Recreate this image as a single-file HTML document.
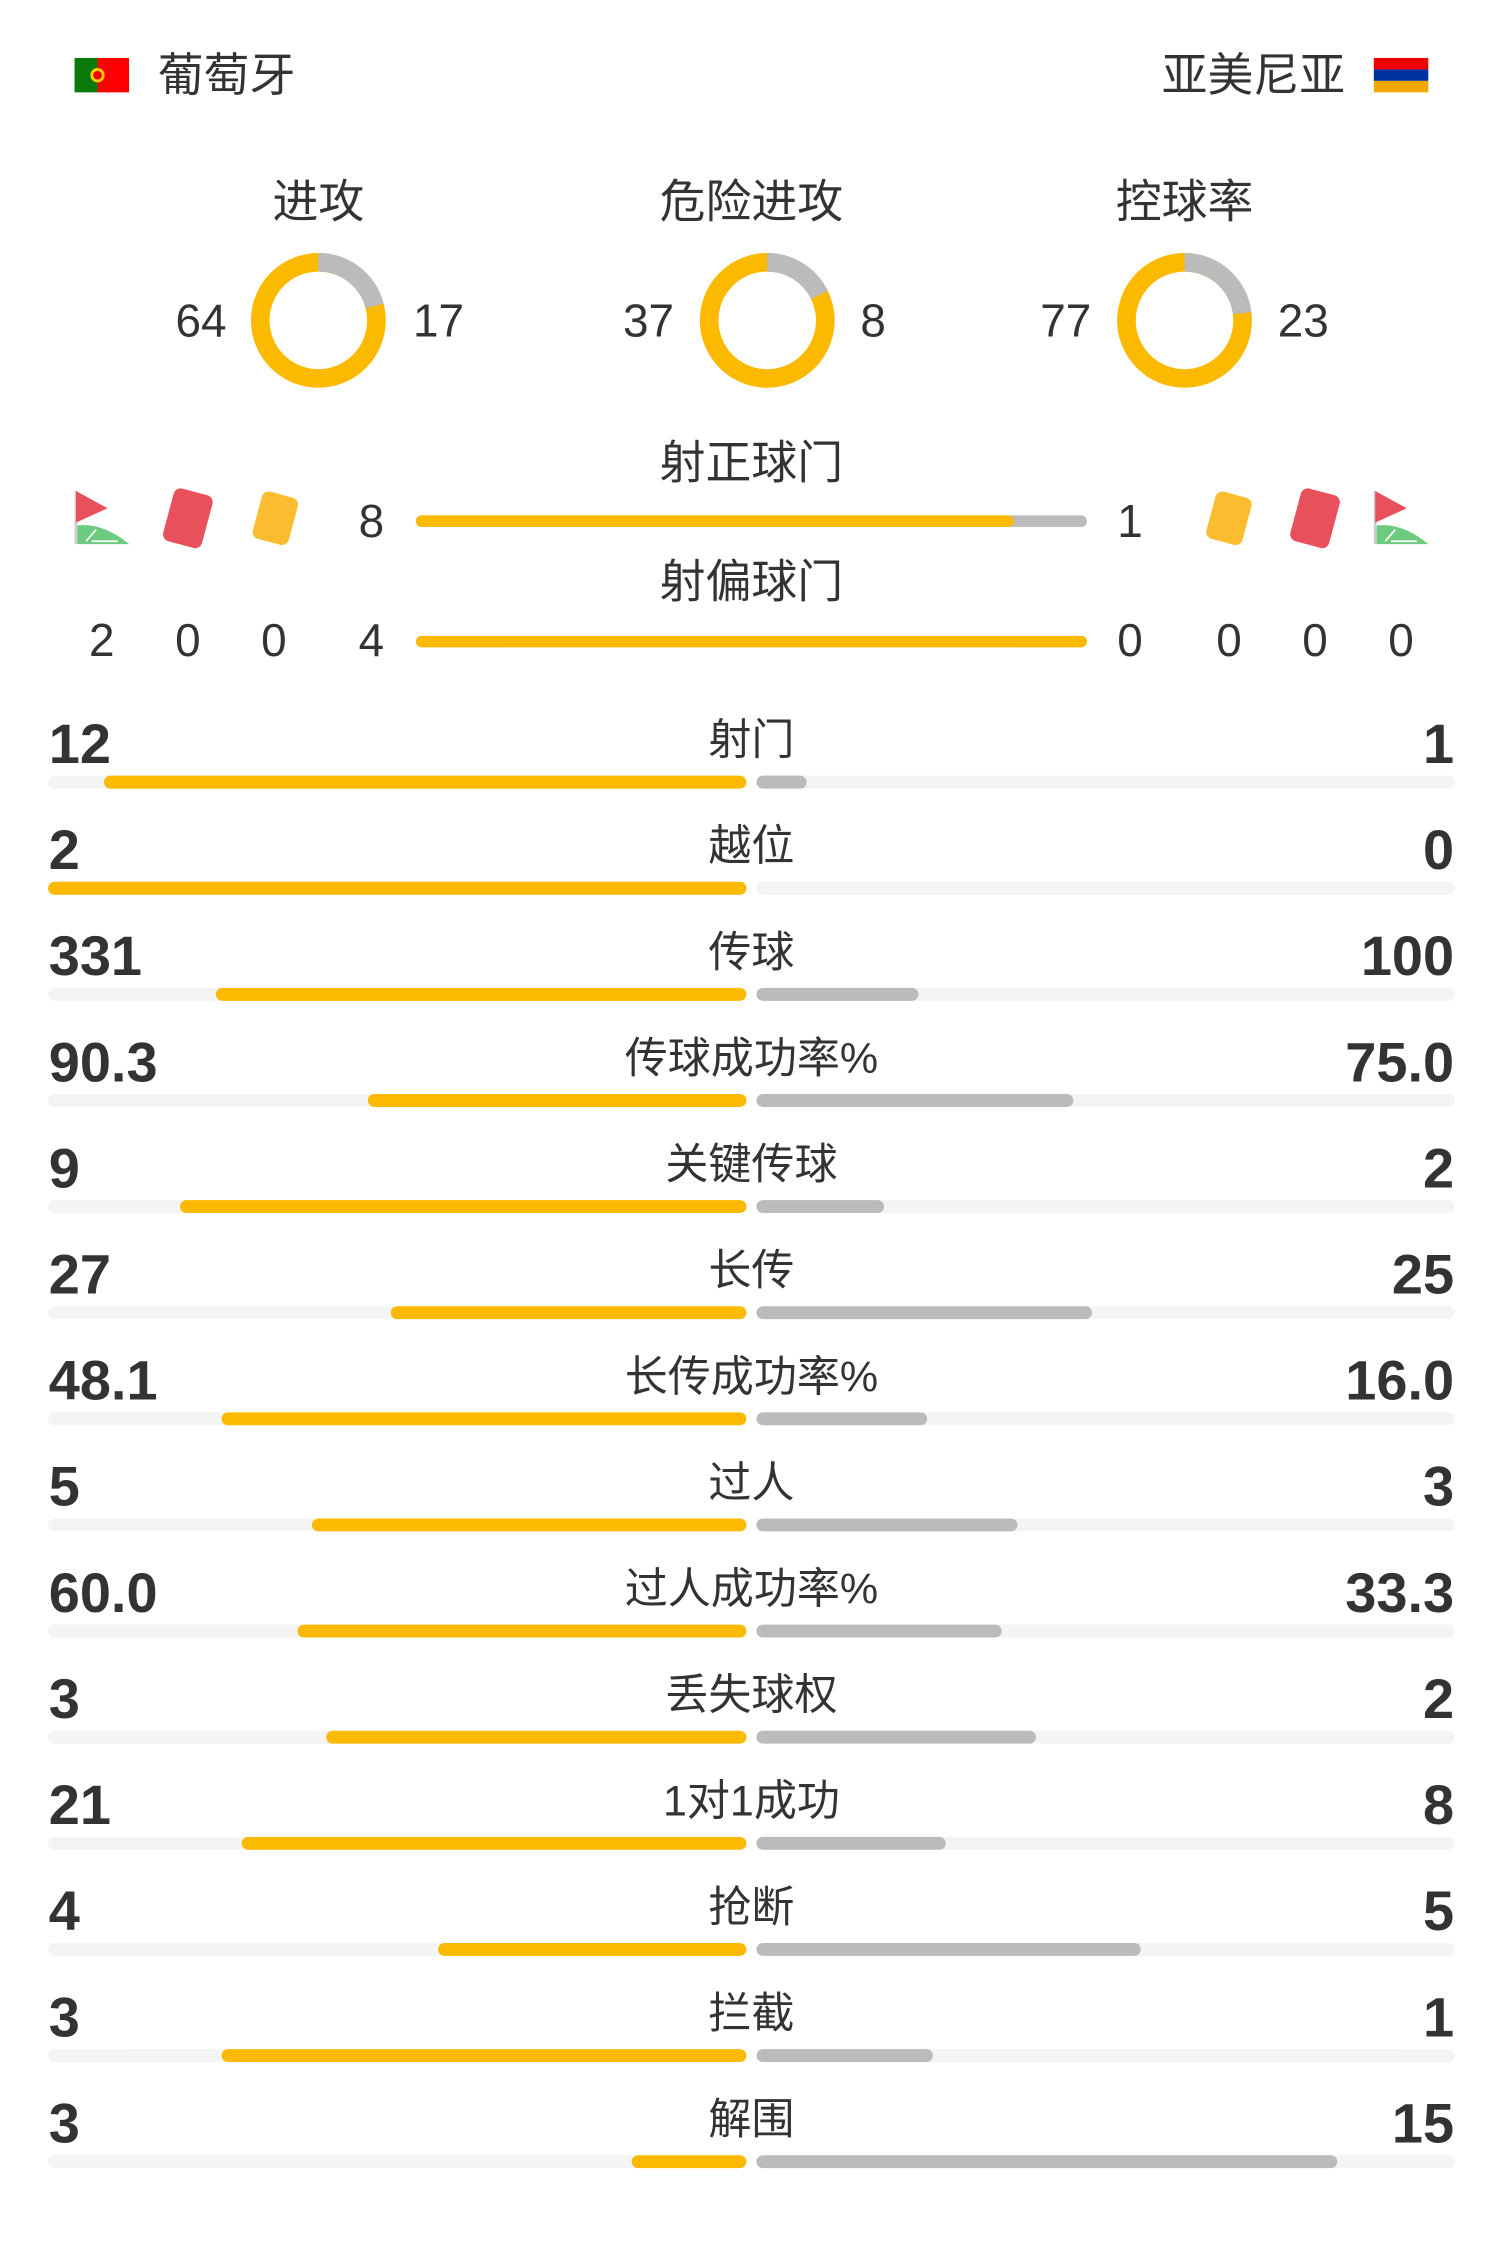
<!DOCTYPE html>
<html><head><meta charset="utf-8"><style>
html,body{margin:0;padding:0;background:#fff;}
svg{display:block;}
text{font-family:"Liberation Sans","Noto Sans CJK SC",sans-serif;fill:#333;}
.t{font-size:32px;dominant-baseline:central;}
.v{font-size:39px;font-weight:bold;dominant-baseline:central;}
.l{font-size:30px;dominant-baseline:central;text-anchor:middle;}
</style></head><body>
<svg width="1500" height="2244" viewBox="0 0 1046 1564" xmlns="http://www.w3.org/2000/svg">
<rect width="1046" height="1564" fill="#fff"/>
<rect x="52" y="40" width="16" height="24" fill="#0a7a0a"/><rect x="68" y="40" width="22" height="24" fill="#f00"/>
<circle cx="68" cy="52" r="5" fill="#fc0"/><circle cx="68" cy="52" r="3" fill="#e00"/>
<text class="t" x="110" y="52">葡萄牙</text>
<text class="t" x="938" y="52" text-anchor="end">亚美尼亚</text>
<rect x="958" y="40" width="38" height="8" fill="#e00"/><rect x="958" y="48" width="38" height="8" fill="#0033a0"/><rect x="958" y="56" width="38" height="8" fill="#f2a800"/>
<text class="t" x="222" y="140" text-anchor="middle">进攻</text>
<text class="t" x="524" y="140" text-anchor="middle">危险进攻</text>
<text class="t" x="826" y="140" text-anchor="middle">控球率</text>
<text class="t" x="158" y="223" text-anchor="end">64</text><text class="t" x="288" y="223">17</text>
<text class="t" x="470" y="223" text-anchor="end">37</text><text class="t" x="600" y="223">8</text>
<text class="t" x="761" y="223" text-anchor="end">77</text><text class="t" x="891" y="223">23</text>
<g fill="none" stroke-width="13">
<circle cx="222" cy="223" r="40.5" stroke="#FBBA00"/>
<circle cx="222" cy="223" r="40.5" stroke="#BBB" stroke-dasharray="53.4 300" transform="rotate(-90 222 223)"/>
<circle cx="535" cy="223" r="40.5" stroke="#FBBA00"/>
<circle cx="535" cy="223" r="40.5" stroke="#BBB" stroke-dasharray="45.2 300" transform="rotate(-90 535 223)"/>
<circle cx="826" cy="223" r="40.5" stroke="#FBBA00"/>
<circle cx="826" cy="223" r="40.5" stroke="#BBB" stroke-dasharray="58.5 300" transform="rotate(-90 826 223)"/>
</g>
<text class="t" x="524" y="322" text-anchor="middle">射正球门</text>
<line x1="294" y1="363" x2="754" y2="363" stroke="#BBB" stroke-width="8" stroke-linecap="round"/>
<line x1="294" y1="363" x2="703" y2="363" stroke="#FBBA00" stroke-width="8" stroke-linecap="round"/>
<text class="t" x="259" y="363" text-anchor="middle">8</text><text class="t" x="788" y="363" text-anchor="middle">1</text>
<text class="t" x="524" y="405" text-anchor="middle">射偏球门</text>
<line x1="294" y1="447" x2="754" y2="447" stroke="#FBBA00" stroke-width="8" stroke-linecap="round"/>
<g text-anchor="middle">
<text class="t" x="71" y="446">2</text><text class="t" x="131" y="446">0</text><text class="t" x="191" y="446">0</text><text class="t" x="259" y="446">4</text>
<text class="t" x="788" y="446">0</text><text class="t" x="857" y="446">0</text><text class="t" x="917" y="446">0</text><text class="t" x="977" y="446">0</text>
</g>
<defs>
<g id="corner"><line x1="1" y1="0" x2="1" y2="37" stroke="#ccc" stroke-width="2"/><polygon points="1,0 23,12 1,22" fill="#E8505B"/><path d="M2,37 L2,24 Q20,22 38,37 Z" fill="#6CCB7E"/><path d="M8,35 L15,27 M12,35 L30,35" stroke="#fff" stroke-width="1.2" fill="none"/></g>
<g id="red"><rect x="-14" y="-19" width="28" height="38" rx="5" fill="#E8505B"/></g>
<g id="yel"><rect x="-13" y="-17" width="26" height="34" rx="5" fill="#FBBD2F"/></g>
</defs>
<use href="#corner" x="52" y="342"/>
<use href="#red" transform="translate(131,361) rotate(15)"/>
<use href="#yel" transform="translate(192,361) rotate(15)"/>
<use href="#yel" transform="translate(857,361) rotate(15)"/>
<use href="#red" transform="translate(917,361) rotate(15)"/>
<use href="#corner" x="958" y="342"/>
<g stroke-width="9" stroke-linecap="round">
<g stroke="#F4F4F4">
<line x1="38" y1="545" x2="516" y2="545"/><line x1="532" y1="545" x2="1010" y2="545"/>
<line x1="38" y1="619" x2="516" y2="619"/><line x1="532" y1="619" x2="1010" y2="619"/>
<line x1="38" y1="693" x2="516" y2="693"/><line x1="532" y1="693" x2="1010" y2="693"/>
<line x1="38" y1="767" x2="516" y2="767"/><line x1="532" y1="767" x2="1010" y2="767"/>
<line x1="38" y1="841" x2="516" y2="841"/><line x1="532" y1="841" x2="1010" y2="841"/>
<line x1="38" y1="915" x2="516" y2="915"/><line x1="532" y1="915" x2="1010" y2="915"/>
<line x1="38" y1="989" x2="516" y2="989"/><line x1="532" y1="989" x2="1010" y2="989"/>
<line x1="38" y1="1063" x2="516" y2="1063"/><line x1="532" y1="1063" x2="1010" y2="1063"/>
<line x1="38" y1="1137" x2="516" y2="1137"/><line x1="532" y1="1137" x2="1010" y2="1137"/>
<line x1="38" y1="1211" x2="516" y2="1211"/><line x1="532" y1="1211" x2="1010" y2="1211"/>
<line x1="38" y1="1285" x2="516" y2="1285"/><line x1="532" y1="1285" x2="1010" y2="1285"/>
<line x1="38" y1="1359" x2="516" y2="1359"/><line x1="532" y1="1359" x2="1010" y2="1359"/>
<line x1="38" y1="1433" x2="516" y2="1433"/><line x1="532" y1="1433" x2="1010" y2="1433"/>
<line x1="38" y1="1507" x2="516" y2="1507"/><line x1="532" y1="1507" x2="1010" y2="1507"/>
</g>
<g stroke="#FBBA00">
<line x1="77" y1="545" x2="516" y2="545"/>
<line x1="38" y1="619" x2="516" y2="619"/>
<line x1="155" y1="693" x2="516" y2="693"/>
<line x1="261" y1="767" x2="516" y2="767"/>
<line x1="130" y1="841" x2="516" y2="841"/>
<line x1="277" y1="915" x2="516" y2="915"/>
<line x1="159" y1="989" x2="516" y2="989"/>
<line x1="222" y1="1063" x2="516" y2="1063"/>
<line x1="212" y1="1137" x2="516" y2="1137"/>
<line x1="232" y1="1211" x2="516" y2="1211"/>
<line x1="173" y1="1285" x2="516" y2="1285"/>
<line x1="310" y1="1359" x2="516" y2="1359"/>
<line x1="159" y1="1433" x2="516" y2="1433"/>
<line x1="445" y1="1507" x2="516" y2="1507"/>
</g>
<g stroke="#BBB">
<line x1="532" y1="545" x2="558" y2="545"/>
<line x1="532" y1="693" x2="636" y2="693"/>
<line x1="532" y1="767" x2="744" y2="767"/>
<line x1="532" y1="841" x2="612" y2="841"/>
<line x1="532" y1="915" x2="757" y2="915"/>
<line x1="532" y1="989" x2="642" y2="989"/>
<line x1="532" y1="1063" x2="705" y2="1063"/>
<line x1="532" y1="1137" x2="694" y2="1137"/>
<line x1="532" y1="1211" x2="718" y2="1211"/>
<line x1="532" y1="1285" x2="655" y2="1285"/>
<line x1="532" y1="1359" x2="791" y2="1359"/>
<line x1="532" y1="1433" x2="646" y2="1433"/>
<line x1="532" y1="1507" x2="928" y2="1507"/>
</g>
</g>
<g>
<text class="v" x="34" y="518">12</text><text class="l" x="524" y="516">射门</text><text class="v" x="1014" y="518" text-anchor="end">1</text>
<text class="v" x="34" y="592">2</text><text class="l" x="524" y="590">越位</text><text class="v" x="1014" y="592" text-anchor="end">0</text>
<text class="v" x="34" y="666">331</text><text class="l" x="524" y="664">传球</text><text class="v" x="1014" y="666" text-anchor="end">100</text>
<text class="v" x="34" y="740">90.3</text><text class="l" x="524" y="738">传球成功率%</text><text class="v" x="1014" y="740" text-anchor="end">75.0</text>
<text class="v" x="34" y="814">9</text><text class="l" x="524" y="812">关键传球</text><text class="v" x="1014" y="814" text-anchor="end">2</text>
<text class="v" x="34" y="888">27</text><text class="l" x="524" y="886">长传</text><text class="v" x="1014" y="888" text-anchor="end">25</text>
<text class="v" x="34" y="962">48.1</text><text class="l" x="524" y="960">长传成功率%</text><text class="v" x="1014" y="962" text-anchor="end">16.0</text>
<text class="v" x="34" y="1036">5</text><text class="l" x="524" y="1034">过人</text><text class="v" x="1014" y="1036" text-anchor="end">3</text>
<text class="v" x="34" y="1110">60.0</text><text class="l" x="524" y="1108">过人成功率%</text><text class="v" x="1014" y="1110" text-anchor="end">33.3</text>
<text class="v" x="34" y="1184">3</text><text class="l" x="524" y="1182">丢失球权</text><text class="v" x="1014" y="1184" text-anchor="end">2</text>
<text class="v" x="34" y="1258">21</text><text class="l" x="524" y="1256">1对1成功</text><text class="v" x="1014" y="1258" text-anchor="end">8</text>
<text class="v" x="34" y="1332">4</text><text class="l" x="524" y="1330">抢断</text><text class="v" x="1014" y="1332" text-anchor="end">5</text>
<text class="v" x="34" y="1406">3</text><text class="l" x="524" y="1404">拦截</text><text class="v" x="1014" y="1406" text-anchor="end">1</text>
<text class="v" x="34" y="1480">3</text><text class="l" x="524" y="1478">解围</text><text class="v" x="1014" y="1480" text-anchor="end">15</text>
</g>
</svg>
</body></html>
